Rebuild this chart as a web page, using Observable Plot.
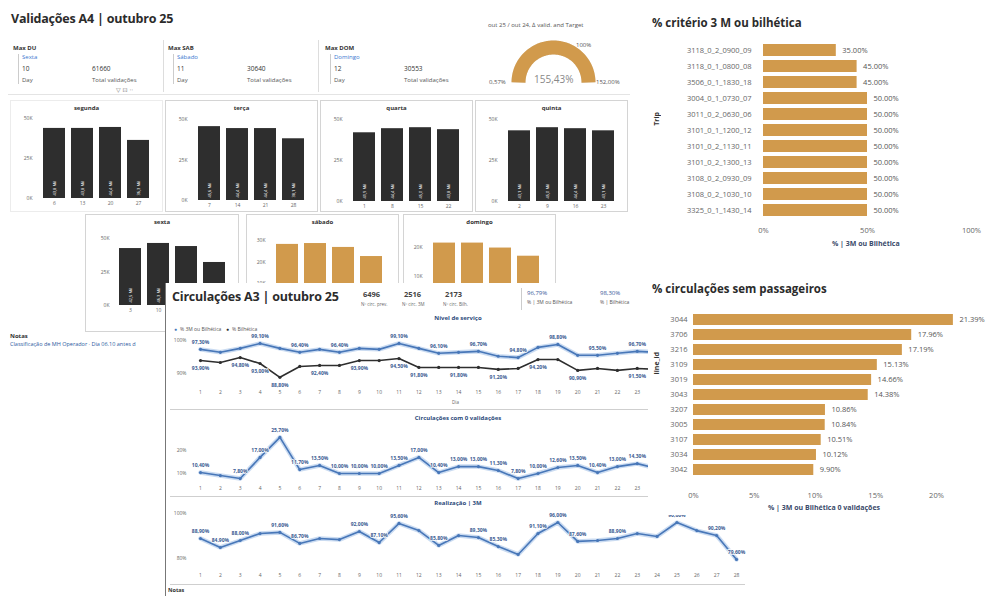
<!DOCTYPE html>
<html><head><meta charset="utf-8">
<script src="https://cdn.jsdelivr.net/npm/d3@7"></script>
<script src="https://cdn.jsdelivr.net/npm/@observablehq/plot@0.6"></script>
<style>
body{margin:0;background:#fff;font-family:"Open Sans","Noto Sans",sans-serif;}
#root{position:relative;width:992px;height:596px;overflow:hidden;background:#fff;}
.t{position:absolute;white-space:nowrap;color:#333;line-height:1;}
</style></head><body><div id="root"></div>
<script>
// ---------------- DATA ----------------
const segundaDays = ["6","13","20","27"];   const segundaVal = [43.8, 43.8, 44.4, 36.3];
const tercaDays   = ["7","14","21","28"];   const tercaVal   = [45.6, 44.4, 44.4, 38.1];
const quartaDays  = ["1","8","15","22"];    const quartaVal  = [41.9, 44.4, 45.0, 43.8];
const quintaDays  = ["2","9","16","23"];    const quintaVal  = [43.1, 45.0, 44.4, 43.1];
const sextaDays   = ["3","10","17","24"];   const sextaVal   = [42.5, 46.3, 44.0, 32.1];
const sabadoDays  = ["4","11","18","25"];   const sabadoVal  = [28.2, 28.6, 26.8, 22.6];
const domingoDays = ["5","12","19","26"];   const domingoVal = [21.4, 21.4, 19.7, 16.9];

const gaugeValue = 155.43, gaugeMin = 0.57, gaugeMax = 152.00, gaugeTarget = 100;

const lineDays = [1,2,3,4,5,6,7,8,9,10,11,12,13,14,15,16,17,18,19,20,21,22,23,24,25,26,27,28];
const pct3MBilh = [97.3,96.4,97.6,99.1,97.6,96.4,97.3,96.4,97.6,97.3,99.1,97.6,96.1,96.4,96.7,95.2,94.8,97.9,98.8,95.5,95.5,96.1,96.7,96.4,97.0,95.8,96.1,95.5];
const pctBilh   = [93.9,93.3,94.8,93.0,88.8,92.1,92.4,92.4,93.9,93.9,94.5,91.8,91.8,91.8,91.8,91.2,91.5,94.2,94.2,90.9,91.5,90.9,91.5,91.2,92.1,90.6,91.2,89.7];
const pctZeroVal = [10.4,9.1,7.8,17.0,25.7,11.7,13.5,10.0,10.0,10.0,13.5,17.0,10.4,13.0,13.0,11.3,7.8,10.0,12.6,13.5,10.4,13.0,14.3,12.2,10.9,13.0,11.7,15.2];
const pctReal3M = [88.9,84.9,88.0,91.1,91.6,86.7,88.9,88.4,92.0,87.1,95.6,92.4,85.8,90.2,89.3,85.3,81.8,91.1,96.0,87.6,88.0,88.9,91.1,89.8,96.0,92.4,90.2,79.6];
const lab3MBilh = [1,4,6,8,11,13,15,17,19,21,23];
const labBilh   = [1,3,4,5,7,9,11,12,14,16,18,20,23];
const labZeroVal = [1,3,4,5,6,7,8,9,10,11,12,13,14,15,16,17,18,19,20,21,22,23];
const labReal3M = [1,2,3,5,6,9,10,11,13,15,16,18,19,20,22,25,27,28];

const trips = ["3118_0_2_0900_09","3118_0_1_0800_08","3506_0_1_1830_18","3004_0_1_0730_07","3011_0_2_0630_06","3101_0_1_1200_12","3101_0_2_1130_11","3101_0_2_1300_13","3108_0_2_0930_09","3108_0_2_1030_10","3325_0_1_1430_14"];
const tripPct = [35.00,45.00,45.00,50.00,50.00,50.00,50.00,50.00,50.00,50.00,50.00];
const lineIds = ["3044","3706","3216","3109","3019","3043","3207","3005","3107","3034","3042"];
const linePct = [21.39,17.96,17.19,15.13,14.66,14.38,10.86,10.84,10.51,10.12,9.90];

// ---------------- HELPERS ----------------
const root = document.getElementById("root");
const FONT = '"Open Sans","Noto Sans",sans-serif';
const ORANGE = "#D19A4C", DARK = "#2e2e2e", BLUE = "#4877b8", LBLUE = "#3b5b92";
function put(node, x, y, z) { node.style.position = "absolute"; node.style.left = x + "px"; node.style.top = y + "px"; node.style.zIndex = z || 1; root.appendChild(node); return node; }
function text(x, y, s, css, z) { const d = document.createElement("div"); d.className = "t"; d.textContent = s; d.style.cssText = css || ""; return put(d, x, y, z); }
function rect(x, y, w, h, css, z) { const d = document.createElement("div"); d.style.cssText = `width:${w}px;height:${h}px;box-sizing:border-box;` + (css || ""); return put(d, x, y, z); }
const pstyle = (fs) => ({fontFamily: FONT, fontSize: fs + "px", background: "transparent", maxWidth: "none", overflow: "visible", color: "#666"});
const fmtK = v => v.toFixed(1).replace(".", ",") + " Mil";
const fmtP = v => v.toFixed(2).replace(".", ",") + "%";

// ---------------- PANEL A4 ----------------
text(11, 13, "Validações A4 | outubro 25", "font-weight:700;font-size:12.5px;color:#2b2b2b;letter-spacing:-0.2px", 1);
rect(163, 40, 1, 52, "background:#ddd", 1);
rect(318, 40, 1, 52, "background:#ddd", 1);
rect(8, 94, 622, 1, "background:#e4e4e4", 1);
const cards = [
  {x: 13, name: "Max DU", day: "Sexta", n: "10", v: "61660"},
  {x: 168, name: "Max SAB", day: "Sábado", n: "11", v: "30640"},
  {x: 325, name: "Max DOM", day: "Domingo", n: "12", v: "30553"}];
for (const c of cards) {
  text(c.x, 45, c.name, "font-weight:700;font-size:6px;color:#333", 1);
  rect(c.x + 5, 54, 1, 30, "background:#ccc", 1);
  text(c.x + 9, 54, c.day, "font-size:6px;color:#3a78d0", 1);
  text(c.x + 9, 66, c.n, "font-size:6.5px;color:#333", 1);
  text(c.x + 79, 66, c.v, "font-size:6.5px;color:#333", 1);
  text(c.x + 9, 77, "Day", "font-size:6px;color:#555", 1);
  text(c.x + 79, 77, "Total validações", "font-size:6px;color:#555", 1);
}
text(116, 87, "▽  ⊡  ··", "font-family:'DejaVu Sans';font-size:6px;color:#777", 1);

// gauge
text(488, 22, "out 25 / out 24, ∆ valid. and Target", "font-size:6px;color:#555", 1);
{
  const frac = Math.max(0, Math.min(1, (gaugeValue - gaugeMin) / (gaugeMax - gaugeMin)));
  const steps = d3.range(0, 61);
  const track = steps.map(i => ({x: Math.cos(Math.PI * (1 - i / 60)), y: Math.sin(Math.PI * (1 - i / 60))}));
  const arc = steps.map(i => ({x: Math.cos(Math.PI * (1 - frac * i / 60)), y: Math.sin(Math.PI * (1 - frac * i / 60))}));
  const g = Plot.plot({width: 120, height: 60, marginLeft: 25, marginRight: 25, marginTop: 15, marginBottom: 10,
    x: {domain: [-1, 1], axis: null}, y: {domain: [0, 1], axis: null}, style: pstyle(6),
    marks: [
      Plot.line(track, {x: "x", y: "y", stroke: "#e6e6e6", strokeWidth: 14, strokeLinecap: "butt"}),
      Plot.line(arc, {x: "x", y: "y", stroke: ORANGE, strokeWidth: 14, strokeLinecap: "butt"})
    ]});
  put(g, 493, 32, 1);
  text(534, 74, gaugeValue.toFixed(2).replace(".", ",") + "%", "font-size:10px;color:#888", 2);
  text(489, 79, gaugeMin.toFixed(2).replace(".", ",") + "%", "font-size:6px;color:#555", 2);
  text(596, 79, gaugeMax.toFixed(2).replace(".", ",") + "%", "font-size:6px;color:#555", 2);
  text(576, 42, gaugeTarget + "%", "font-size:6px;color:#555", 2);
}

// small multiple bar panels
function barPanel(p) {
  rect(p.x, p.y, p.w, p.h, `border:1px solid ${p.border || "#d4d4d4"};background:#fff`, 1);
  text(p.x, p.y + 5, p.name, `width:${p.w}px;text-align:center;font-weight:700;font-size:6px;color:#333`, 1);
  const data = p.days.map((d, i) => ({day: d, v: p.vals[i]}));
  const labelled = data.filter((d, i) => p.labelIdx.includes(i));
  const chart = Plot.plot({
    width: p.w, height: p.h, marginTop: p.mt, marginBottom: p.mb, marginLeft: p.ml, marginRight: p.mr,
    style: pstyle(5),
    x: p.xaxis === false ? {domain: p.days, padding: 0.2, axis: null} : {domain: p.days, padding: 0.2, tickSize: 0, tickPadding: 3, label: null},
    y: {domain: [0, p.ymax], ticks: p.ticks, tickFormat: d => d + "K", tickSize: 0, tickPadding: 4, label: null},
    marks: [
      Plot.barY(data, {x: "day", y: "v", fill: p.color}),
      Plot.text(labelled, {x: "day", y: 0, text: d => fmtK(d.v), rotate: -90, textAnchor: "start", dy: -3, fill: "#fff", fontSize: 4})
    ]});
  put(chart, p.x, p.y, 1);
}
const all4 = [0, 1, 2, 3];
const row1 = {y: 100, h: 112, w: 153, ml: 26, mr: 7, ymax: 50, ticks: [0, 25, 50], color: DARK, labelIdx: all4};
barPanel({...row1, x: 10, name: "segunda", days: segundaDays, vals: segundaVal, mt: 18, mb: 14, border: "#ececec"});
barPanel({...row1, x: 165, name: "terça", days: tercaDays, vals: tercaVal, mt: 19, mb: 12});
barPanel({...row1, x: 320, name: "quarta", days: quartaDays, vals: quartaVal, mt: 19, mb: 11});
barPanel({...row1, x: 475, name: "quinta", days: quintaDays, vals: quintaVal, mt: 19, mb: 11});
barPanel({x: 85, y: 214, w: 154, h: 118, ml: 28, mr: 7, mt: 24, mb: 27, ymax: 50, ticks: [0, 25, 50], color: DARK, name: "sexta", days: sextaDays, vals: sextaVal, labelIdx: [0, 1]});
barPanel({x: 246, y: 214, w: 153, h: 118, ml: 23, mr: 9, mt: 26, mb: 27, ymax: 30, ticks: [10, 20, 30], color: ORANGE, name: "sábado", days: sabadoDays, vals: sabadoVal, labelIdx: [], xaxis: false});
barPanel({x: 403, y: 214, w: 153, h: 118, ml: 23, mr: 9, mt: 21, mb: 27, ymax: 24, ticks: [10, 20], color: ORANGE, name: "domingo", days: domingoDays, vals: domingoVal, labelIdx: [], xaxis: false});

text(10, 333, "Notas", "font-weight:700;font-size:6px;color:#333", 1);
text(10, 342, "Classificação de MH Operador · Dia 06.10 antes d", "font-size:5.5px;color:#2c5aa0", 1);

// ---------------- PANEL CIRCULAÇÕES A3 ----------------
rect(165, 283, 580, 313, "background:#fff;border-left:1px solid #777", 2);
text(172, 291, "Circulações A3 | outubro 25", "font-weight:700;font-size:12.5px;color:#2b2b2b;letter-spacing:-0.2px", 3);
const kpis = [{x: 363, v: "6496", l: "Nº circ. prev."}, {x: 404, v: "2516", l: "Nº circ. 3M"}, {x: 445, v: "2173", l: "Nº circ. Bilh."}];
for (const k of kpis) {
  text(k.x, 291, k.v, "font-weight:700;font-size:7.5px;color:#444", 3);
  text(k.x - 2, 302, k.l, "font-size:4.5px;color:#666", 3);
}
rect(521, 288, 1, 22, "background:#ccc", 3);
text(527, 290, "96,79%", "font-size:6px;color:#3a5a9a", 3);
text(527, 300, "% | 3M ou Bilhética", "font-size:5px;color:#555", 3);
text(600, 290, "98,30%", "font-size:6px;color:#3a5a9a", 3);
text(600, 300, "% | Bilhética", "font-size:5px;color:#555", 3);
text(408, 315, "Nível de serviço", "width:100px;text-align:center;font-weight:700;font-size:6px;color:#2c4a7a", 3);

function lineChart(o) {
  const mk = [];
  for (const s of o.series) {
    const data = lineDays.map((d, i) => ({d, v: s.vals[i]}));
    if (s.halo) mk.push(Plot.line(data, {x: "d", y: "v", stroke: "#9fbde6", strokeWidth: 4.5, strokeOpacity: 0.55}));
    mk.push(Plot.line(data, {x: "d", y: "v", stroke: s.color, strokeWidth: 1.6}));
    mk.push(Plot.dot(data, {x: "d", y: "v", r: 1.6, fill: s.color}));
    const lab = data.filter(p => s.labels.includes(p.d));
    mk.push(Plot.text(lab, {x: "d", y: "v", text: p => fmtP(p.v), dy: s.dy, fill: LBLUE, fontSize: 5, fontWeight: 700, stroke: "#fff", strokeWidth: 1.5}));
  }
  const chart = Plot.plot({
    width: 575, height: o.h, marginLeft: 30, marginRight: 9, marginTop: o.mt, marginBottom: o.mb,
    style: pstyle(5),
    x: {domain: [1, 28], ticks: lineDays.filter(d => d <= o.lastTick), tickFormat: d => d, tickSize: 0, tickPadding: 4, label: null},
    y: {domain: o.ydom, ticks: o.yticks, tickFormat: d => d + "%", tickSize: 0, tickPadding: 14, label: null},
    marks: mk});
  put(chart, 170, o.y, 3);
}
// chart 1
text(174, 327, "●", "font-size:5px;color:" + BLUE, 3);
text(180, 327, "% 3M ou Bilhética", "font-size:5px;color:#555", 3);
text(226, 327, "●", "font-size:5px;color:" + DARK, 3);
text(232, 327, "% Bilhética", "font-size:5px;color:#555", 3);
lineChart({y: 322, h: 83, mt: 18, mb: 19, ydom: [86, 100], yticks: [90, 100], lastTick: 23, series: [
  {vals: pct3MBilh, color: BLUE, halo: true, labels: lab3MBilh, dy: -7},
  {vals: pctBilh, color: DARK, halo: false, labels: labBilh, dy: 8}]});
text(452, 400, "Dia", "font-size:4.5px;color:#666", 3);
// chart 2
rect(170, 409, 575, 87, "border-top:1px solid #cfcfcf", 3);
text(408, 415, "Circulações com 0 validações", "width:100px;text-align:center;font-weight:700;font-size:6px;color:#2c4a7a", 3);
lineChart({y: 410, h: 85, mt: 21.6, mb: 12.8, ydom: [6, 28], yticks: [10, 20], lastTick: 23, series: [
  {vals: pctZeroVal, color: BLUE, halo: true, labels: labZeroVal, dy: -7}]});
// chart 3
rect(170, 496, 575, 89, "border-top:1px solid #cfcfcf;border-bottom:1px solid #cfcfcf", 3);
text(408, 500, "Realização | 3M", "width:100px;text-align:center;font-weight:700;font-size:6px;color:#2c4a7a", 3);
lineChart({y: 497, h: 86, mt: 16, mb: 13.75, ydom: [75, 100], yticks: [80, 100], lastTick: 28, series: [
  {vals: pctReal3M, color: BLUE, halo: true, labels: labReal3M, dy: -7}]});
text(168, 588, "Notas", "font-weight:700;font-size:5.5px;color:#333", 3);

// ---------------- RIGHT PANELS ----------------
rect(648, 0, 344, 515, "background:#fff", 4);
text(652, 17, "% critério 3 M ou bilhética", "font-weight:700;font-size:11.5px;color:#2b2b2b", 5);
{
  const data = trips.map((t, i) => ({t, v: tripPct[i]}));
  const chart = Plot.plot({
    width: 347, height: 218, marginLeft: 118, marginRight: 21, marginTop: 10, marginBottom: 28,
    style: pstyle(7.5),
    y: {domain: trips, padding: 0.25, tickSize: 0, tickPadding: 12, label: null},
    x: {domain: [0, 100], ticks: [0, 50, 100], tickFormat: d => d + "%", tickSize: 0, tickPadding: 7, label: null},
    marks: [
      Plot.barX(data, {x: "v", y: "t", fill: ORANGE}),
      Plot.text(data, {x: "v", y: "t", text: d => d.v.toFixed(2) + "%", textAnchor: "start", dx: 6, fill: "#555", fontSize: 7.5})
    ]});
  put(chart, 645, 30, 5);
  text(653, 112, "Trip", "font-weight:700;font-size:7px;color:#333;writing-mode:vertical-rl;transform:rotate(180deg)", 5);
  text(832, 240, "% | 3M ou Bilhética", "font-weight:700;font-size:7px;color:#3a4a6a", 5);
}
text(652, 283, "% circulações sem passageiros", "font-weight:700;font-size:11.5px;color:#2b2b2b", 5);
{
  const data = lineIds.map((l, i) => ({l, v: linePct[i]}));
  const chart = Plot.plot({
    width: 347, height: 211, marginLeft: 48, marginRight: 7.4, marginTop: 10, marginBottom: 22,
    style: pstyle(7.5),
    y: {domain: lineIds, padding: 0.25, tickSize: 0, tickPadding: 6, label: null},
    x: {domain: [0, 24], ticks: [0, 5, 10, 15, 20], tickFormat: d => d + "%", tickSize: 0, tickPadding: 8, label: null},
    marks: [
      Plot.barX(data, {x: "v", y: "l", fill: ORANGE}),
      Plot.text(data, {x: "v", y: "l", text: d => d.v.toFixed(2) + "%", textAnchor: "start", dx: 6, fill: "#555", fontSize: 7.5})
    ]});
  put(chart, 645, 295, 5);
  text(653, 352, "line_id", "font-weight:700;font-size:7px;color:#333;writing-mode:vertical-rl;transform:rotate(180deg)", 5);
  text(768, 504, "% | 3M ou Bilhética 0 validações", "font-weight:700;font-size:7px;color:#3a4a6a", 5);
}
</script></body></html>
